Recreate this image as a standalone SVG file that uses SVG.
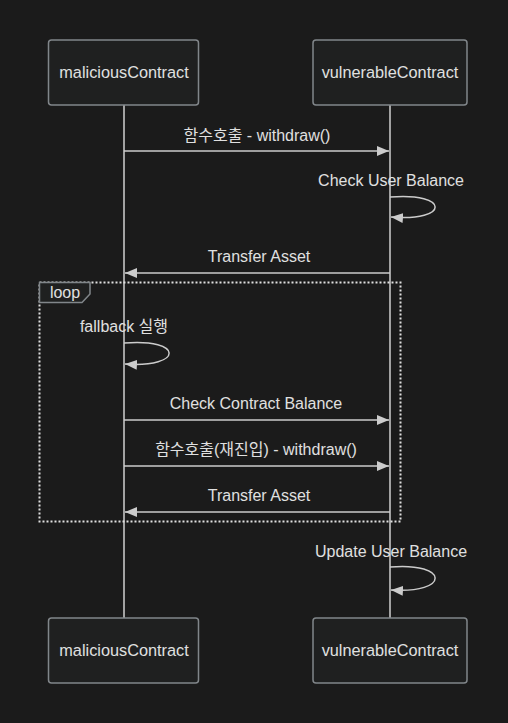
<svg xmlns="http://www.w3.org/2000/svg" width="508" height="723" viewBox="0 0 508 723">
<style>
.bg{fill:#1b1b1b}
.actor{fill:#1f2020;stroke:#81868a;stroke-width:1.5}
.life{stroke:#d0d0d0;stroke-width:1.5}
.msg{stroke:#cccccc;stroke-width:1.5;fill:none}
.t{font-family:"Liberation Sans",Arial,sans-serif;font-size:16.3px;fill:#e0e0e0;text-anchor:middle}
.ml{font-family:"Liberation Sans","Noto Sans CJK KR",Arial,sans-serif;font-size:16px;fill:#e0e0e0;text-anchor:middle}
.loopbox{fill:none;stroke:#e0e0e0;stroke-width:2;stroke-dasharray:2 2}
.looplab{fill:#1f2020;stroke:#81868a;stroke-width:1.5}
</style>
<defs>
<marker id="ah" viewBox="0 0 12 10" refX="12" refY="5" markerWidth="12" markerHeight="10" markerUnits="userSpaceOnUse" orient="auto">
<path d="M0,0 L12,5 L0,10 z" fill="#cccccc"/>
</marker>
</defs>
<rect class="bg" x="0" y="0" width="508" height="723"/>
<g id="lifelines">
<line class="life" x1="124" y1="105" x2="124" y2="618"/>
<line class="life" x1="390" y1="105" x2="390" y2="618"/>
</g>
<g id="loop">
<rect class="loopbox" x="39.5" y="282.5" width="361" height="239"/>
<path class="looplab" d="M39.5,282.5 H90 V294 L82,302.5 H39.5 Z"/>
<text class="ml" x="65" y="298">loop</text>
</g>
<g id="connectors">
<line class="msg" x1="124" y1="151" x2="389" y2="151" marker-end="url(#ah)"/>
<path class="msg" d="M390,197 C450,192 450,222 391,217" marker-end="url(#ah)"/>
<line class="msg" x1="390" y1="273" x2="125" y2="273" marker-end="url(#ah)"/>
<path class="msg" d="M124,343 C184,338 184,368 125,364" marker-end="url(#ah)"/>
<line class="msg" x1="124" y1="420" x2="389" y2="420" marker-end="url(#ah)"/>
<line class="msg" x1="124" y1="466" x2="389" y2="466" marker-end="url(#ah)"/>
<line class="msg" x1="390" y1="512" x2="125" y2="512" marker-end="url(#ah)"/>
<path class="msg" d="M390,567 C450,562 450,594 391,590" marker-end="url(#ah)"/>
</g>
<g id="labels">
<text class="ml" x="257" y="141">함수호출 - withdraw()</text>
<text class="ml" x="391" y="186">Check User Balance</text>
<text class="ml" x="259" y="262">Transfer Asset</text>
<text class="ml" x="124" y="332">fallback 실행</text>
<text class="ml" x="256" y="409">Check Contract Balance</text>
<text class="ml" x="256" y="455">함수호출(재진입) - withdraw()</text>
<text class="ml" x="259" y="501">Transfer Asset</text>
<text class="ml" x="391" y="557">Update User Balance</text>
</g>
<g id="actor-malicious-top">
<rect class="actor" x="48.5" y="40" width="150" height="65" rx="3"/>
<text class="t" x="124" y="78">maliciousContract</text>
</g>
<g id="actor-vulnerable-top">
<rect class="actor" x="313" y="40" width="154" height="65" rx="3"/>
<text class="t" x="390" y="78">vulnerableContract</text>
</g>
<g id="actor-malicious-bottom">
<rect class="actor" x="48.5" y="618" width="150" height="65" rx="3"/>
<text class="t" x="124" y="656">maliciousContract</text>
</g>
<g id="actor-vulnerable-bottom">
<rect class="actor" x="313" y="618" width="154" height="65" rx="3"/>
<text class="t" x="390" y="656">vulnerableContract</text>
</g>
</svg>
